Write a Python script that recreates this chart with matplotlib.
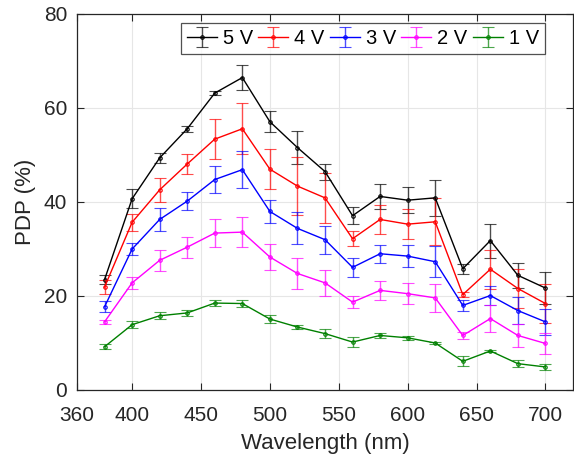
import matplotlib
matplotlib.use("Agg")
import matplotlib.pyplot as plt
import numpy as np

plt.rcParams['font.family'] = ['Liberation Sans', 'DejaVu Sans']

wavelength = [380, 400, 420, 440, 460, 480, 500, 520, 540, 560, 580, 600, 620, 640, 660, 680, 700]

pdp_5v = [23.4, 40.6, 49.3, 55.5, 63.1, 66.4, 57.0, 51.5, 46.4, 37.0, 41.1, 40.3, 40.8, 25.7, 31.7, 24.3, 21.6]
err_5v = [1.0, 2.0, 1.0, 0.7, 0.4, 2.7, 2.2, 3.5, 1.7, 1.8, 2.6, 2.8, 3.8, 1.1, 3.6, 2.6, 3.4]
pdp_4v = [21.8, 35.6, 42.5, 48.0, 53.3, 55.5, 46.9, 43.3, 40.8, 32.1, 36.2, 35.2, 35.7, 20.2, 25.6, 21.5, 18.3]
err_4v = [1.5, 1.8, 2.5, 2.1, 4.3, 5.4, 4.2, 6.1, 5.3, 1.6, 3.0, 3.2, 5.0, 0.5, 4.1, 4.1, 4.2]
pdp_3v = [17.6, 29.9, 36.2, 40.1, 44.7, 46.8, 37.9, 34.3, 31.9, 26.0, 28.9, 28.4, 27.2, 17.9, 20.0, 16.8, 14.4]
err_3v = [1.2, 1.3, 2.4, 1.9, 2.8, 4.0, 2.4, 3.4, 3.0, 2.1, 1.9, 2.3, 3.3, 1.1, 2.0, 2.8, 2.8]
pdp_2v = [14.4, 22.7, 27.5, 30.3, 33.3, 33.5, 28.2, 24.7, 22.7, 18.6, 21.1, 20.4, 19.5, 11.5, 15.1, 11.5, 9.8]
err_2v = [0.5, 1.3, 2.2, 2.2, 2.9, 3.2, 2.8, 3.2, 2.8, 1.3, 2.0, 2.2, 3.0, 0.8, 2.8, 2.4, 2.2]
pdp_1v = [9.1, 13.8, 15.7, 16.3, 18.4, 18.3, 15.0, 13.3, 11.9, 10.1, 11.5, 11.0, 9.9, 6.0, 8.2, 5.5, 4.8]
err_1v = [0.5, 0.8, 0.7, 0.6, 0.6, 0.8, 0.8, 0.5, 0.9, 1.0, 0.6, 0.4, 0.2, 1.1, 0.3, 0.7, 0.6]

labels = ['5 V', '4 V', '3 V', '2 V', '1 V']
colors = ['black', 'red', 'blue', 'magenta', '#008000']
series = [(pdp_5v, err_5v), (pdp_4v, err_4v), (pdp_3v, err_3v), (pdp_2v, err_2v), (pdp_1v, err_1v)]

fig = plt.figure(figsize=(5.74, 4.59), dpi=100)
ax = fig.add_axes([77/574, 1 - 389.5/459, (573 - 77)/574, (389.5 - 13.7)/459])

for (vals, errs), lab, c in zip(series, labels, colors):
    eb = ax.errorbar(wavelength, vals, yerr=errs, color=c, lw=1.0, marker='o', ms=2.5,
                     mfc='none', mew=0.8, capsize=4, elinewidth=1.0, capthick=1.0, label=lab)
    for art in eb[1]:
        art.set_alpha(0.7)
    for art in eb[2]:
        art.set_alpha(0.7)

ax.set_xlim(360, 720)
ax.set_ylim(0, 80)
ax.set_xticks([360, 400, 450, 500, 550, 600, 650, 700])
ax.set_yticks([0, 20, 40, 60, 80])
ax.grid(True, color='#e6e6e6', lw=0.8)
ax.set_axisbelow(True)
ax.tick_params(direction='in', top=True, right=True, labelsize=15, length=5, width=0.8, colors='#262626')
ax.tick_params(axis='x', pad=12)
ax.tick_params(axis='y', pad=7)
for sp in ax.spines.values():
    sp.set_color('#262626')
    sp.set_linewidth(0.9)
ax.set_xlabel('Wavelength (nm)', fontsize=16, color='#262626', labelpad=6)
ax.set_ylabel('PDP (%)', fontsize=16, color='#262626', labelpad=6)

leg = ax.legend(loc='upper right', ncol=5, fontsize=14.5, frameon=True, fancybox=False,
                edgecolor='#262626', handlelength=1.5, handletextpad=0.3, columnspacing=0.25,
                borderpad=0.3, borderaxespad=0,
                bbox_to_anchor=(545/574, 1 - 23/459), bbox_transform=fig.transFigure)
leg.get_frame().set_linewidth(0.9)

fig.savefig('out.png', dpi=100)
